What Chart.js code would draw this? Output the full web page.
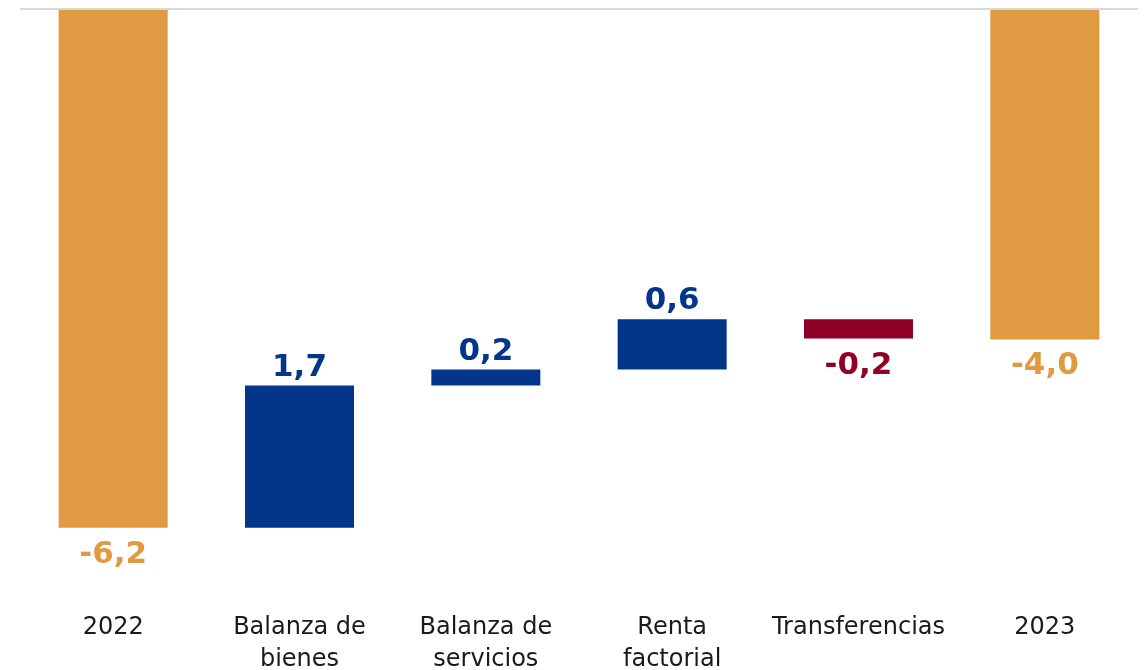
<!DOCTYPE html>
<html>
<head>
<meta charset="utf-8">
<script src="https://cdn.jsdelivr.net/npm/chart.js@4"></script>
<style>
  html, body { margin: 0; padding: 0; background: #fff; }
  #wrap { width: 1144px; height: 670px; }
</style>
</head>
<body>
<div id="wrap"><canvas id="waterfallChart"></canvas></div>
<script>
// categories and values
const categories = ['2022', ['Balanza de', 'bienes'], ['Balanza de', 'servicios'], ['Renta', 'factorial'], 'Transferencias', '2023'];
const values = [-6.2, 1.7, 0.19, 0.6, -0.23, -3.95];
const isTotal = [true, false, false, false, false, true];

const ORANGE = '#E09A42';
const BLUE = '#03358A';
const RED = '#910026';

// build floating bars: totals start at 0, the rest stack on the running sum
let running = 0;
const ranges = values.map((v, i) => {
  if (isTotal[i]) { running = v; return [0, v]; }
  const start = running;
  running = running + v;
  return [start, running];
});
const colors = values.map((v, i) => isTotal[i] ? ORANGE : (v >= 0 ? BLUE : RED));

function fmt(v) {
  const s = (Math.round(Math.abs(v) * 10) / 10).toFixed(1).replace('.', ',');
  return (v < 0 ? '-' : '') + s;
}

// value labels above rising bars, below falling/negative ones
const valueLabels = {
  id: 'valueLabels',
  afterDatasetsDraw(chart) {
    const ctx = chart.ctx;
    const meta = chart.getDatasetMeta(0);
    ctx.save();
    ctx.font = 'bold 31px "DejaVu Sans"';
    ctx.textAlign = 'center';
    ctx.textBaseline = 'middle';
    meta.data.forEach((bar, i) => {
      const v = values[i];
      const top = Math.min(bar.y, bar.base);
      const bottom = Math.max(bar.y, bar.base);
      ctx.fillStyle = colors[i];
      if (v >= 0) ctx.fillText(fmt(v), bar.x, top - 18);
      else ctx.fillText(fmt(v), bar.x, bottom + 27);
    });
    ctx.restore();
  }
};

document.addEventListener('DOMContentLoaded', () => {
  new Chart(document.getElementById('waterfallChart'), {
    type: 'bar',
    data: {
      labels: categories,
      datasets: [{
        data: ranges,
        backgroundColor: colors,
        borderSkipped: false,
        barPercentage: 0.585,
        categoryPercentage: 1.0
      }]
    },
    options: {
      responsive: true,
      maintainAspectRatio: false,
      animation: false,
      layout: { padding: { top: 9, left: 20, right: 6, bottom: -15 } },
      plugins: {
        legend: { display: false },
        tooltip: { enabled: false }
      },
      scales: {
        x: {
          grid: { display: false },
          border: { display: false },
          ticks: {
            color: '#1a1a1a',
            padding: 10,
            maxRotation: 0,
            autoSkip: false,
            font: { family: '"DejaVu Sans"', size: 24, lineHeight: 1.3 }
          }
        },
        y: {
          min: -7,
          max: 0,
          border: { display: false },
          grid: {
            drawTicks: false,
            lineWidth: 2,
            color: c => c.tick.value === 0 ? '#D9D9D9' : 'rgba(0,0,0,0)'
          },
          ticks: { display: false, stepSize: 1 }
        }
      }
    },
    plugins: [valueLabels]
  });
});
</script>
</body>
</html>
